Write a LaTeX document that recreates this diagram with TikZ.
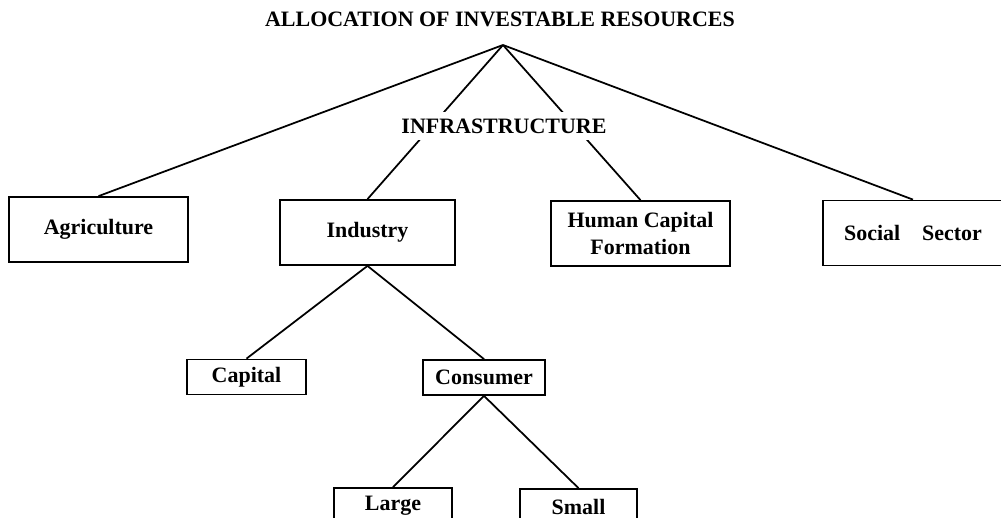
\documentclass[tikz,border=0pt]{standalone}
\usepackage{fontspec}
\setmainfont{Liberation Serif}
\usepackage{tikz}
\newcommand{\labelfont}{\fontsize{12.5}{15}\selectfont\bfseries}
\tikzstyle{bigbox}=[draw, line width=1pt, minimum width=3.58cm, minimum height=1.3cm, inner sep=0pt, align=center, font=\labelfont]
\tikzstyle{smallbox}=[draw, line width=1pt, minimum width=2.4cm, minimum height=0.7cm, inner sep=0pt, font=\labelfont]
\tikzstyle{link}=[line width=1pt]

\begin{document}
\begin{tikzpicture}
        \useasboundingbox (0, 0) rectangle (20.02, -10.36);
        \clip (0, 0) rectangle (20.02, -10.36);
        \node[font=\labelfont] (title) at (10.0, -0.38) {ALLOCATION OF INVESTABLE RESOURCES};
        \coordinate (apex) at (10.06, -0.9);
        \node[bigbox] (agri) at (1.97, -4.59) {Agriculture};
        \node[bigbox, minimum width=3.5cm] (ind) at (7.35, -4.65) {Industry};
        \node[bigbox] (hcf) at (12.81, -4.67) {Human Capital\\Formation};
        \node[bigbox, minimum width=3.6cm] (soc) at (18.26, -4.66) {Social\quad Sector};
        \node[smallbox, minimum width=2.38cm] (cap) at (4.93, -7.54) {Capital};
        \node[smallbox, minimum width=2.44cm] (cons) at (9.68, -7.55) {Consumer};
        \node[smallbox, minimum width=2.36cm, minimum height=0.72cm] (large) at (7.86, -10.12) {Large};
        \node[smallbox, minimum width=2.34cm, minimum height=0.72cm] (small) at (11.57, -10.14) {Small};
        \draw[link] (apex) -- (agri.north);
        \draw[link] (apex) -- (ind.north);
        \draw[link] (apex) -- (hcf.north);
        \draw[link] (apex) -- (soc.north);
        \node[fill=white, font=\labelfont, inner xsep=1pt, inner ysep=3.5pt] (infra) at (10.08, -2.52) {INFRASTRUCTURE};
        \draw[link] (ind.south) -- (cap.north);
        \draw[link] (ind.south) -- (cons.north);
        \draw[link] (cons.south) -- (large.north);
        \draw[link] (cons.south) -- (small.north);
    \end{tikzpicture}
\end{document}
